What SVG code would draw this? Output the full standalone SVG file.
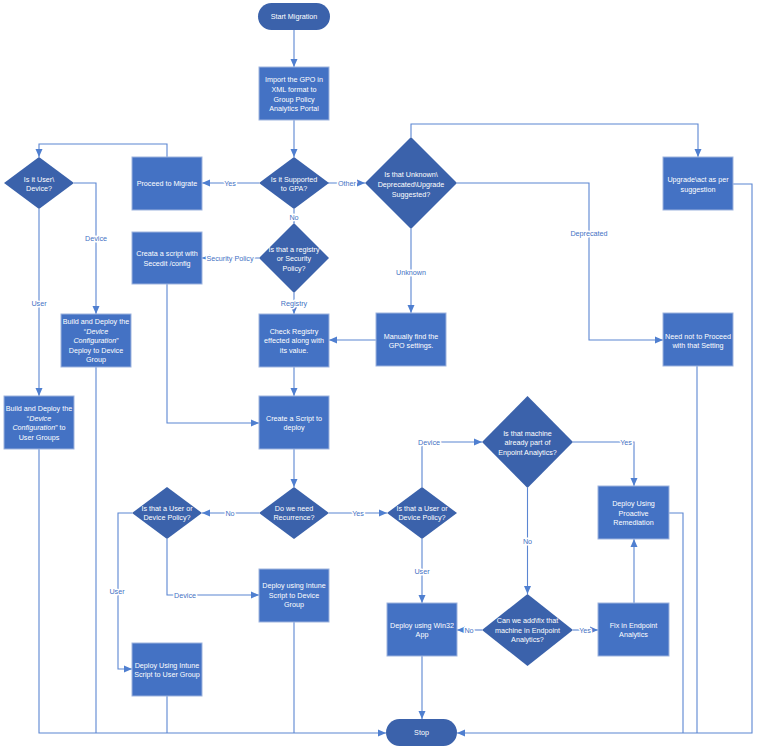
<svg xmlns="http://www.w3.org/2000/svg" width="757" height="750" viewBox="0 0 757 750">
<style>
.box{fill:#4472C4;stroke:#9DB3DE;stroke-width:1}
.dia{fill:#3B62AB}
.term{fill:#3B62AB}
.t{font-family:"Liberation Sans",Arial,sans-serif;font-size:7.2px;fill:#FFFFFF;text-anchor:middle}
.c{fill:none;stroke:#5B86D2;stroke-width:1.1}
.lbl{font-family:"Liberation Sans",Arial,sans-serif;font-size:7.2px;fill:#4472C4;text-anchor:middle;stroke:#FFFFFF;stroke-width:3;paint-order:stroke;stroke-linejoin:round}
</style>
<defs>
<marker id="ah" markerUnits="userSpaceOnUse" markerWidth="8" markerHeight="8" viewBox="0 0 8 8" refX="8" refY="4" orient="auto">
<path d="M0,0.5 L8,4 L0,7.5 Z" fill="#4F7FD0"/>
</marker>
</defs>
<rect width="757" height="750" fill="#FFFFFF"/>
<g id="connectors">
<path class="c" d="M294,30 V67" marker-end="url(#ah)"/>
<path class="c" d="M294,120 V157" marker-end="url(#ah)"/>
<path class="c" d="M259,183 H202" marker-end="url(#ah)"/>
<path class="c" d="M167,157 V144 H39 V157" marker-end="url(#ah)"/>
<path class="c" d="M74,183 H96 V314" marker-end="url(#ah)"/>
<path class="c" d="M39,209 V396" marker-end="url(#ah)"/>
<path class="c" d="M328,183 H365" marker-end="url(#ah)"/>
<path class="c" d="M294,209 V223" marker-end="url(#ah)"/>
<path class="c" d="M411,137 V124 H698 V157" marker-end="url(#ah)"/>
<path class="c" d="M457,183 H589 V340 H663" marker-end="url(#ah)"/>
<path class="c" d="M411,229 V313" marker-end="url(#ah)"/>
<path class="c" d="M259,258 H202" marker-end="url(#ah)"/>
<path class="c" d="M294,293 V314" marker-end="url(#ah)"/>
<path class="c" d="M376,340 H329" marker-end="url(#ah)"/>
<path class="c" d="M294,367 V396" marker-end="url(#ah)"/>
<path class="c" d="M167,284 V423 H259" marker-end="url(#ah)"/>
<path class="c" d="M294,449 V487" marker-end="url(#ah)"/>
<path class="c" d="M259,513 H202" marker-end="url(#ah)"/>
<path class="c" d="M329,513 H387" marker-end="url(#ah)"/>
<path class="c" d="M422,487 V442 H482" marker-end="url(#ah)"/>
<path class="c" d="M422,539 V603" marker-end="url(#ah)"/>
<path class="c" d="M132,513 H118 V669 H132" marker-end="url(#ah)"/>
<path class="c" d="M167,539 V595 H259" marker-end="url(#ah)"/>
<path class="c" d="M573,442 H634 V486" marker-end="url(#ah)"/>
<path class="c" d="M527.5,488 V594" marker-end="url(#ah)"/>
<path class="c" d="M482,630 H457" marker-end="url(#ah)"/>
<path class="c" d="M573,630 H598" marker-end="url(#ah)"/>
<path class="c" d="M634,603 V539" marker-end="url(#ah)"/>
<path class="c" d="M422,656 V719" marker-end="url(#ah)"/>
<path class="c" d="M39,449 V733 H386" marker-end="url(#ah)"/>
<path class="c" d="M96,367 V733"/>
<path class="c" d="M167,696 V733"/>
<path class="c" d="M294,622 V733"/>
<path class="c" d="M733,184 H752 V733 H457" marker-end="url(#ah)"/>
<path class="c" d="M697,366 V733"/>
<path class="c" d="M669,513 H683 V733"/>
<text class="lbl" x="230" y="185.5">Yes</text>
<text class="lbl" x="96" y="240.5">Device</text>
<text class="lbl" x="39" y="305.5">User</text>
<text class="lbl" x="347" y="185.5">Other</text>
<text class="lbl" x="294" y="219.5">No</text>
<text class="lbl" x="589" y="235.5">Deprecated</text>
<text class="lbl" x="411" y="274.5">Unknown</text>
<text class="lbl" x="230" y="260.5">Security Policy</text>
<text class="lbl" x="294" y="305.5">Registry</text>
<text class="lbl" x="230" y="515.5">No</text>
<text class="lbl" x="358" y="515.5">Yes</text>
<text class="lbl" x="429" y="444.5">Device</text>
<text class="lbl" x="422" y="573.5">User</text>
<text class="lbl" x="117" y="593.5">User</text>
<text class="lbl" x="185" y="597.5">Device</text>
<text class="lbl" x="626" y="444.5">Yes</text>
<text class="lbl" x="527.5" y="543.5">No</text>
<text class="lbl" x="469" y="632.5">No</text>
<text class="lbl" x="585" y="632.5">Yes</text>
</g>
<g id="start">
<rect class="term" x="258" y="3" width="72" height="27" rx="13.5"/>
<text class="t" x="294" y="19">Start Migration</text>
</g>
<g id="import">
<rect class="box" x="259" y="67" width="70" height="53"/>
<text class="t" x="294" y="81.5">Import the GPO in</text>
<text class="t" x="294" y="91.5">XML format to</text>
<text class="t" x="294" y="101.5">Group Policy</text>
<text class="t" x="294" y="110.5">Analytics Portal</text>
</g>
<g id="supported">
<polygon class="dia" points="294,157 329,183 294,209 259,183"/>
<text class="t" x="294" y="181.5">Is it Supported</text>
<text class="t" x="294" y="190.5">to GPA?</text>
</g>
<g id="proceed">
<rect class="box" x="132" y="157" width="70" height="53"/>
<text class="t" x="167" y="185.5">Proceed to Migrate</text>
</g>
<g id="userdevice">
<polygon class="dia" points="39,157 74,183 39,209 4,183"/>
<text class="t" x="39" y="181.5">Is it User\</text>
<text class="t" x="39" y="190.5">Device?</text>
</g>
<g id="unknown">
<polygon class="dia" points="411,137 457,183 411,229 365,183"/>
<text class="t" x="411" y="176.5">Is that Unknown\</text>
<text class="t" x="411" y="186.5">Deprecated\Upgrade</text>
<text class="t" x="411" y="196.5">Suggested?</text>
</g>
<g id="upgrade">
<rect class="box" x="663" y="157" width="70" height="53"/>
<text class="t" x="698" y="181.5">Upgrade\act as per</text>
<text class="t" x="698" y="191.5">suggestion</text>
</g>
<g id="registry">
<polygon class="dia" points="294,223 329,258 294,293 259,258"/>
<text class="t" x="294" y="251.5">Is that a registry</text>
<text class="t" x="294" y="260.5">or Security</text>
<text class="t" x="294" y="270.5">Policy?</text>
</g>
<g id="secedit">
<rect class="box" x="132" y="232" width="70" height="52"/>
<text class="t" x="167" y="255.5">Creata a script with</text>
<text class="t" x="167" y="265.5">Secedit /config</text>
</g>
<g id="builddevice">
<rect class="box" x="61" y="314" width="70" height="53"/>
<text class="t" x="96" y="323.5">Build and Deploy the</text>
<text class="t" x="96" y="333.5">“<tspan font-style="italic">Device</tspan></text>
<text class="t" x="96" y="342.5"><tspan font-style="italic">Configuration</tspan>”</text>
<text class="t" x="96" y="352.5">Deploy to Device</text>
<text class="t" x="96" y="361.5">Group</text>
</g>
<g id="checkregistry">
<rect class="box" x="259" y="314" width="70" height="53"/>
<text class="t" x="294" y="333.5">Check Registry</text>
<text class="t" x="294" y="342.5">effected along with</text>
<text class="t" x="294" y="352.5">its value.</text>
</g>
<g id="manually">
<rect class="box" x="376" y="313" width="70" height="53"/>
<text class="t" x="411" y="338.5">Manually find the</text>
<text class="t" x="411" y="347.5">GPO settings.</text>
</g>
<g id="neednot">
<rect class="box" x="663" y="313" width="70" height="53"/>
<text class="t" x="698" y="338.5">Need not to Proceed</text>
<text class="t" x="698" y="347.5">with that Setting</text>
</g>
<g id="builduser">
<rect class="box" x="4" y="396" width="70" height="53"/>
<text class="t" x="39" y="410.5">Build and Deploy the</text>
<text class="t" x="39" y="420.5">“<tspan font-style="italic">Device</tspan></text>
<text class="t" x="39" y="429.5"><tspan font-style="italic">Configuration</tspan>” to</text>
<text class="t" x="39" y="439.5">User Groups</text>
</g>
<g id="createscript">
<rect class="box" x="259" y="396" width="70" height="53"/>
<text class="t" x="294" y="420.5">Create a Script to</text>
<text class="t" x="294" y="429.5">deploy</text>
</g>
<g id="machine">
<polygon class="dia" points="527.5,396 573,442 527.5,488 482,442"/>
<text class="t" x="527.5" y="435.5">Is that machine</text>
<text class="t" x="527.5" y="444.5">already part of</text>
<text class="t" x="527.5" y="454.5">Enpoint Analytics?</text>
</g>
<g id="recurrence">
<polygon class="dia" points="294,487 329,513 294,539 259,513"/>
<text class="t" x="294" y="510.5">Do we need</text>
<text class="t" x="294" y="519.5">Recurrence?</text>
</g>
<g id="policyleft">
<polygon class="dia" points="167,487 202,513 167,539 132,513"/>
<text class="t" x="167" y="510.5">Is that a User or</text>
<text class="t" x="167" y="519.5">Device Policy?</text>
</g>
<g id="policyright">
<polygon class="dia" points="422,487 457,513 422,539 387,513"/>
<text class="t" x="422" y="510.5">Is that a User or</text>
<text class="t" x="422" y="519.5">Device Policy?</text>
</g>
<g id="proactive">
<rect class="box" x="598" y="486" width="71" height="53"/>
<text class="t" x="633.5" y="505.5">Deploy Using</text>
<text class="t" x="633.5" y="515.5">Proactive</text>
<text class="t" x="633.5" y="524.5">Remediation</text>
</g>
<g id="intunedevice">
<rect class="box" x="259" y="569" width="70" height="53"/>
<text class="t" x="294" y="587.5">Deploy using Intune</text>
<text class="t" x="294" y="597.5">Script to Device</text>
<text class="t" x="294" y="606.5">Group</text>
</g>
<g id="canwe">
<polygon class="dia" points="527.5,594 573,630 527.5,666 482,630"/>
<text class="t" x="527.5" y="622.5">Can we add\fix that</text>
<text class="t" x="527.5" y="632.5">machine in Endpoint</text>
<text class="t" x="527.5" y="641.5">Analytics?</text>
</g>
<g id="win32">
<rect class="box" x="387" y="603" width="70" height="53"/>
<text class="t" x="422" y="627.5">Deploy using Win32</text>
<text class="t" x="422" y="636.5">App</text>
</g>
<g id="fix">
<rect class="box" x="598" y="603" width="71" height="53"/>
<text class="t" x="633.5" y="627.5">Fix in Endpoint</text>
<text class="t" x="633.5" y="636.5">Analytics</text>
</g>
<g id="intuneuser">
<rect class="box" x="132" y="643" width="70" height="53"/>
<text class="t" x="167" y="667.5">Deploy Using Intune</text>
<text class="t" x="167" y="676.5">Script to User Group</text>
</g>
<g id="stop">
<rect class="term" x="386" y="719" width="71" height="27" rx="13.5"/>
<text class="t" x="421.5" y="735">Stop</text>
</g>
</svg>
